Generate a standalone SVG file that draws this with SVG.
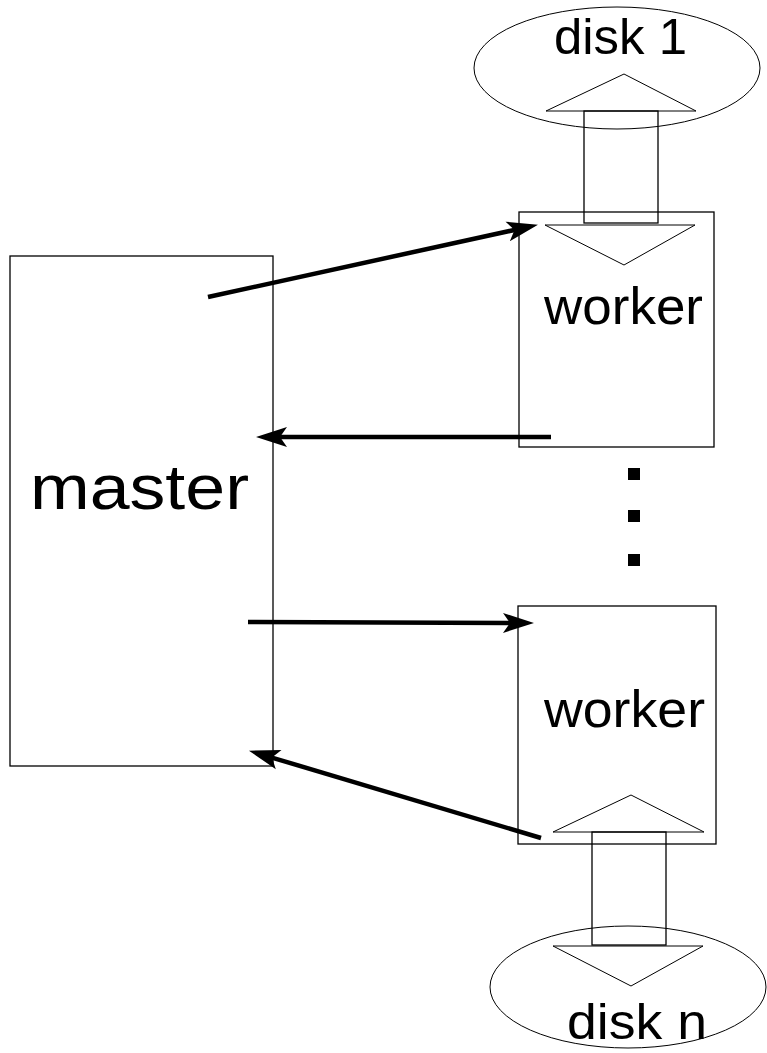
<svg xmlns="http://www.w3.org/2000/svg" width="767" height="1053" viewBox="0 0 767 1053">
<style>
.box{fill:none;stroke:#000;stroke-width:1.3}
.thin{fill:none;stroke:#000;stroke-width:1}
.lbl{font-family:"Liberation Sans",Arial,sans-serif;fill:#000}
.arr{fill:none;stroke:#000;stroke-width:4.5;marker-end:url(#ah)}
</style>
<defs>
<marker id="ah" markerUnits="userSpaceOnUse" markerWidth="34" markerHeight="22" refX="8" refY="10" orient="auto" overflow="visible">
<path d="M0,0 L31,10 L0,20 L7,10 Z" fill="#000"/>
</marker>
</defs>
<rect width="767" height="1053" fill="#fff"/>
<g id="disk1">
<ellipse class="thin" cx="617" cy="68" rx="143" ry="61"/>
<text class="lbl" x="554" y="54" font-size="50" textLength="133" lengthAdjust="spacingAndGlyphs">disk 1</text>
</g>
<g id="worker1">
<rect class="box" x="519" y="212" width="195" height="235"/>
<text class="lbl" x="544" y="324" font-size="52" textLength="159" lengthAdjust="spacingAndGlyphs">worker</text>
</g>
<g id="io1">
<polyline class="thin" points="546,111 624,74 696,111 546,111"/>
<rect class="box" x="584" y="111" width="74" height="112"/>
<polyline class="thin" points="545,225 695,225 624,265 545,225"/>
</g>
<g id="master">
<rect class="box" x="10" y="256" width="263" height="510"/>
<text class="lbl" x="30" y="509" font-size="63" textLength="219" lengthAdjust="spacingAndGlyphs">master</text>
</g>
<g id="dots">
<rect x="628" y="468" width="12" height="12" fill="#000"/>
<rect x="628" y="510" width="12" height="12" fill="#000"/>
<rect x="628" y="554" width="12" height="12" fill="#000"/>
</g>
<g id="worker2">
<rect class="box" x="518" y="606" width="198" height="238"/>
<text class="lbl" x="544" y="727" font-size="52" textLength="161" lengthAdjust="spacingAndGlyphs">worker</text>
</g>
<g id="io2">
<polyline class="thin" points="553,832 631,795 704,832 553,832"/>
<rect class="box" x="592" y="832" width="74" height="113"/>
<polyline class="thin" points="553,946 703,946 631,986 553,946"/>
</g>
<g id="diskn">
<ellipse class="thin" cx="628" cy="987" rx="138" ry="61"/>
<text class="lbl" x="567" y="1039" font-size="50" textLength="140" lengthAdjust="spacingAndGlyphs">disk n</text>
</g>
<g id="connectors">
<line class="arr" x1="208" y1="297" x2="515.5" y2="229.7"/>
<line class="arr" x1="551" y1="437" x2="279" y2="437"/>
<line class="arr" x1="248" y1="622" x2="511" y2="623"/>
<line class="arr" x1="541" y1="838" x2="271" y2="757.3"/>
</g>
</svg>
